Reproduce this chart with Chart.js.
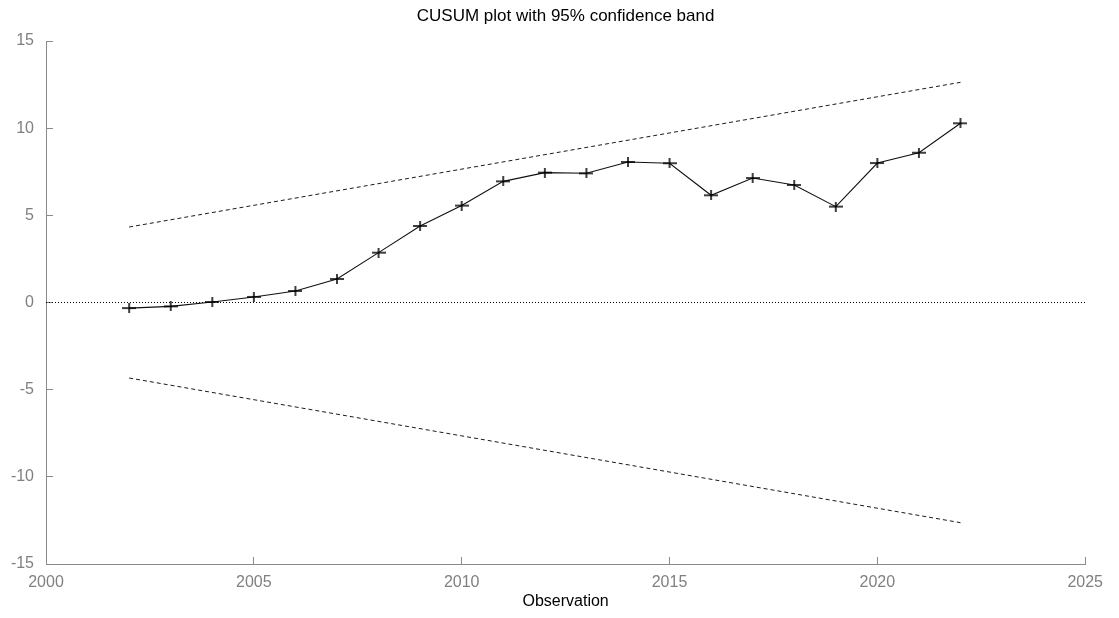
<!DOCTYPE html>
<html>
<head>
<meta charset="utf-8">
<script src="https://cdn.jsdelivr.net/npm/chart.js@4/dist/chart.umd.min.js"></script>
<style>
  html, body { margin: 0; padding: 0; background: #fff; }
  #c { display: block; }
</style>
</head>
<body>
<canvas id="c" width="1119" height="618"></canvas>
<script>
// ---- data ----
const years = [2002, 2003, 2004, 2005, 2006, 2007, 2008, 2009, 2010, 2011, 2012,
               2013, 2014, 2015, 2016, 2017, 2018, 2019, 2020, 2021, 2022];
const cusum = [-0.32, -0.22, 0.03, 0.32, 0.66, 1.35, 2.86, 4.39, 5.56, 6.95, 7.45,
               7.41, 8.06, 7.99, 6.15, 7.14, 6.74, 5.50, 8.00, 8.59, 10.28];
const bandYears = [2002, 2022];
const upperBand = [4.33, 12.63];
const lowerBand = [-4.33, -12.63];
const zeroYears = [2000, 2025];
const zeroLine = [0, 0];
const xTicks = [2000, 2005, 2010, 2015, 2020, 2025];
const yTicks = [-15, -10, -5, 0, 5, 10, 15];
const titleText = 'CUSUM plot with 95% confidence band';
const xTitle = 'Observation';

const pts = (xs, ys) => xs.map((x, i) => ({ x: x, y: ys[i] }));

// wide "+" marker
const marker = document.createElement('canvas');
marker.width = 14; marker.height = 10;
(function () {
  const m = marker.getContext('2d');
  m.strokeStyle = '#000';
  m.lineWidth = 1.5;
  m.beginPath();
  m.moveTo(0, 5); m.lineTo(14, 5);
  m.moveTo(7, 0); m.lineTo(7, 10);
  m.stroke();
})();

const axisColor = '#8a8a8a';
const labelColor = '#808080';
const fontFamily = '"Liberation Sans", Arial, Helvetica, sans-serif';

new Chart(document.getElementById('c'), {
  type: 'line',
  data: {
    datasets: [
      {
        data: pts(zeroYears, zeroLine),
        borderColor: '#000', borderWidth: 1, borderDash: [1, 2],
        pointRadius: 0, fill: false
      },
      {
        data: pts(bandYears, upperBand),
        borderColor: '#1a1a1a', borderWidth: 1, borderDash: [4, 3],
        pointRadius: 0, fill: false
      },
      {
        data: pts(bandYears, lowerBand),
        borderColor: '#1a1a1a', borderWidth: 1, borderDash: [4, 3],
        pointRadius: 0, fill: false
      },
      {
        data: pts(years, cusum),
        borderColor: '#111', borderWidth: 1.1,
        pointStyle: marker, pointRadius: 6, fill: false, tension: 0
      }
    ]
  },
  options: {
    responsive: false,
    animation: false,
    devicePixelRatio: 1,
    layout: { padding: { left: 0, right: 32, top: 0, bottom: 0 } },
    plugins: {
      legend: { display: false },
      tooltip: { enabled: false },
      title: {
        display: true,
        text: titleText,
        fullSize: false,
        color: '#000',
        font: { family: fontFamily, size: 17, weight: 'normal' },
        padding: { top: 5.8, bottom: 14.8 }
      }
    },
    scales: {
      x: {
        type: 'linear',
        min: 2000, max: 2025,
        afterBuildTicks: (s) => { s.ticks = xTicks.map(v => ({ value: v })); },
        afterFit: (s) => { s.height = 54; },
        grid: { drawOnChartArea: false, drawTicks: true, tickLength: -7, tickColor: axisColor, tickWidth: 1 },
        border: { display: true, color: axisColor, width: 1 },
        ticks: {
          color: labelColor, padding: 16, maxRotation: 0,
          font: { family: fontFamily, size: 16 },
          callback: (v) => String(v)
        },
        title: {
          display: true, text: xTitle, color: '#000',
          font: { family: fontFamily, size: 16 },
          padding: { top: 0, bottom: 7 }
        }
      },
      y: {
        type: 'linear',
        min: -15, max: 15,
        afterBuildTicks: (s) => { s.ticks = yTicks.map(v => ({ value: v })); },
        afterFit: (s) => { s.width = 46; },
        grid: { drawOnChartArea: false, drawTicks: true, tickLength: -7, tickColor: axisColor, tickWidth: 1 },
        border: { display: true, color: axisColor, width: 1 },
        ticks: {
          color: labelColor, padding: 19,
          font: { family: fontFamily, size: 16 },
          callback: (v) => String(v)
        }
      }
    }
  }
});
</script>
</body>
</html>
